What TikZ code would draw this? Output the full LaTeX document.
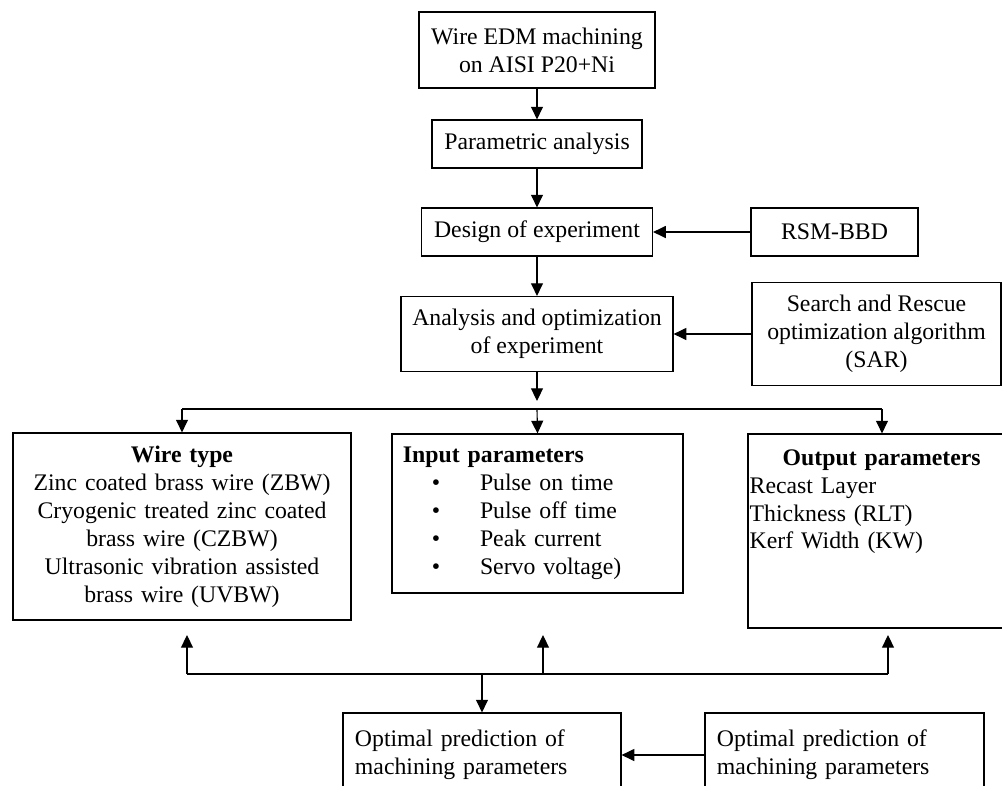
\documentclass[tikz,border=0pt]{standalone}
\usepackage{fontspec}
\setmainfont{Liberation Serif}
\usetikzlibrary{arrows.meta,positioning}
\newcommand{\inbullet}{\makebox[54.8pt][l]{\hspace{20.6pt}\textbullet}}

\begin{document}
\begin{tikzpicture}[x=0.025cm,y=-0.025cm,
  every node/.style={font=\fontsize{16.9}{19.9}\selectfont},
  box/.style={draw,line width=0.8pt,inner sep=0pt,align=center},
  arr/.style={-{Triangle[length=9pt,width=8.5pt]},line width=0.8pt}]
  \path[use as bounding box,fill=white] (0,0) rectangle (1002,785);

  % Main chain
  \node[box,minimum width=5.9cm,minimum height=1.9cm] (edm) at (537,50) {Wire EDM machining\\on AISI P20+Ni};
  \node[box,minimum width=5.25cm,minimum height=1.2cm] (par) at (537,144) {Parametric analysis};
  \node[box,minimum width=5.775cm,minimum height=1.2cm] (doe) at (537,232) {Design of experiment};
  \node[box,minimum width=6.8cm,minimum height=1.875cm] (ana) at (537,334) {Analysis and optimization\\of experiment};

  % Side inputs
  \node[box,minimum width=4.175cm,minimum height=1.2cm] (rsm) at (834.5,232) {RSM-BBD};
  \node[box,minimum width=6.225cm,minimum height=2.575cm] (sar) at (876.5,334) {Search and Rescue\\optimization algorithm\\(SAR)};

  % Parameter boxes
  \node[box,minimum width=8.45cm,minimum height=4.675cm,text width=8.05cm] (wire) at (182,526.5)
    {\textbf{Wire type}\\Zinc coated brass wire (ZBW)\\Cryogenic treated zinc coated\\brass wire (CZBW)\\Ultrasonic vibration assisted\\brass wire (UVBW)};
  \node[box,minimum width=7.275cm,minimum height=3.975cm,text width=6.725cm,align=left] (inp) at (537.5,513.5)
    {\textbf{Input parameters}\\\inbullet Pulse on time\\\inbullet Pulse off time\\\inbullet Peak current\\\inbullet Servo voltage)};
  \node[box,minimum width=6.7cm,minimum height=4.85cm] (outp) at (882,531) {};
  \node[anchor=north west,inner sep=0pt,text width=6.6cm,align=left] (outtxt) at ([xshift=0.05cm,yshift=-0.39cm]outp.north west)
    {\makebox[\linewidth]{\textbf{Output parameters}}\\Recast Layer\\Thickness (RLT)\\Kerf Width (KW)};

  % Prediction boxes
  \node[box,minimum width=6.95cm,minimum height=2.1cm,text width=6.35cm,align=left] (opt1) at (482,755)
    {Optimal prediction of\\machining parameters};
  \node[box,minimum width=6.975cm,minimum height=2.1cm,text width=6.375cm,align=left] (opt2) at (844.5,755)
    {Optimal prediction of\\machining parameters};

  % Junction points
  \coordinate (hub) at (537,401);
  \coordinate (brL) at (182,409);
  \coordinate (brM) at (537,409);
  \coordinate (brR) at (882,409);
  \coordinate (fbL) at (187,674);
  \coordinate (fbM) at (543,674);
  \coordinate (fbR) at (888,674);
  \coordinate (fbD) at (482,674);
  \coordinate (upL) at (187,635);
  \coordinate (upM) at (543,635);
  \coordinate (upR) at (888,635);

  % Connectors
  \draw[arr] (edm) -- (par);
  \draw[arr] (par) -- (doe);
  \draw[arr] (doe) -- (ana);
  \draw[arr] (rsm) -- (doe);
  \draw[arr] (sar) -- (ana);
  \draw[arr] (ana) -- (hub);
  \draw[line width=0.8pt] (brL) -- (brR);
  \draw[arr] (brL) -- (wire.north);
  \draw[arr] (brM) -- (inp.north);
  \draw[arr] (brR) -- (outp.north);
  \draw[line width=0.8pt] (fbL) -- (fbR);
  \draw[arr] (fbL) -- (upL);
  \draw[arr] (fbM) -- (upM);
  \draw[arr] (fbR) -- (upR);
  \draw[arr] (fbD) -- (opt1.north);
  \draw[arr] (opt2) -- (opt1);
\end{tikzpicture}
\end{document}
